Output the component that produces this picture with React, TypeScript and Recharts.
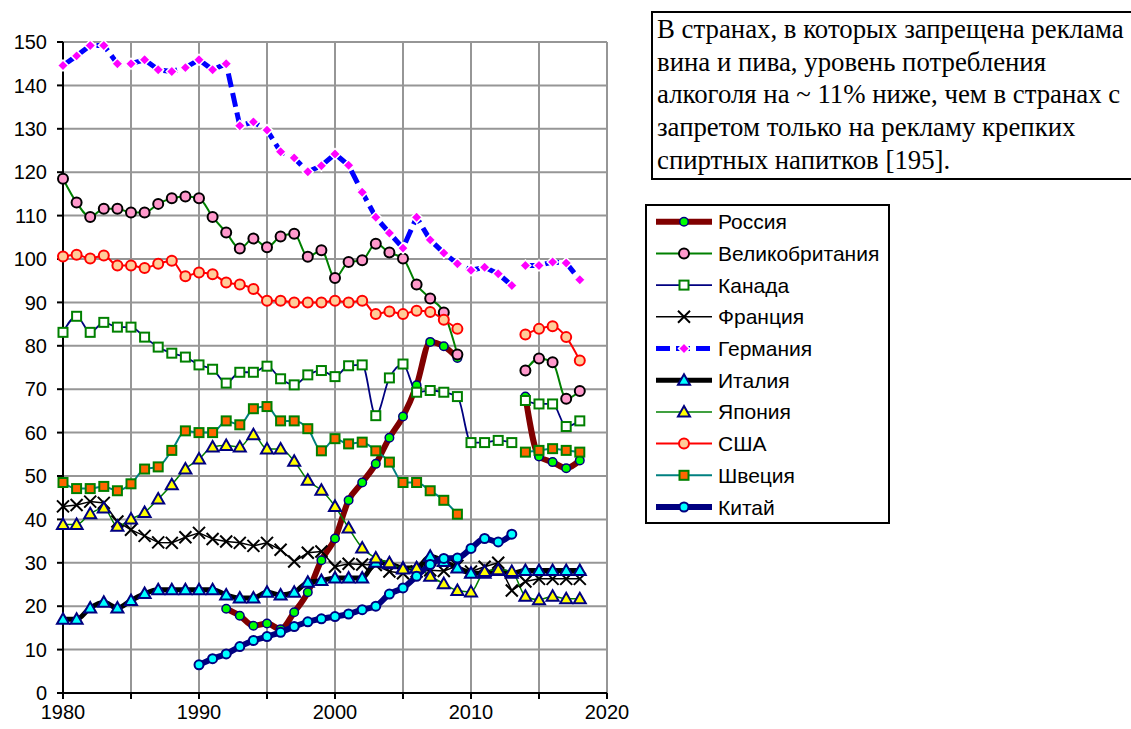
import { CartesianGrid, Line, LineChart, XAxis, YAxis } from "recharts"

const years = [
  1980, 1981, 1982, 1983, 1984, 1985, 1986, 1987, 1988, 1989,
  1990, 1991, 1992, 1993, 1994, 1995, 1996, 1997, 1998, 1999,
  2000, 2001, 2002, 2003, 2004, 2005, 2006, 2007, 2008, 2009,
  2010, 2011, 2012, 2013, 2014, 2015, 2016, 2017, 2018,
]
const xTicks = [1980, 1985, 1990, 1995, 2000, 2005, 2010, 2015, 2020]
const yTicks = [0, 10, 20, 30, 40, 50, 60, 70, 80, 90, 100, 110, 120, 130, 140, 150]

// values per year; each list starts at the year given next to it
const russia1992 = [19.4, 17.8, 15.5, 16, 14.7, 18.6, 23.2, 30.6, 35.6, 44.4, 48.5, 52.8, 58.8, 63.7, 70.9, 80.9, 79.9, 77.2]
const russia2014 = [68.3, 54.5, 53.2, 51.8, 53.6]
const uk1980 = [
  118.5, 113, 109.7, 111.6, 111.6, 110.7, 110.7, 112.7, 114, 114.4,
  114, 109.7, 106.1, 102.4, 104.7, 102.7, 105.2, 105.8, 100.5, 102,
  95.6, 99.3, 99.7, 103.5, 101.5, 100.1, 94.1, 90.9, 87.7, 78,
]
const uk2014 = [74.3, 77.1, 76.2, 67.8, 69.6]
const canada1980 = [
  83.1, 86.8, 83.1, 85.4, 84.3, 84.3, 82, 79.7, 78.3, 77.4,
  75.6, 74.6, 71.4, 73.9, 73.9, 75.3, 72.4, 71, 73.3, 74.3,
  72.9, 75.4, 75.6, 63.9, 72.6, 75.8, 69.3, 69.7, 69.3, 68.3,
  57.7, 57.7, 58.2, 57.7,
]
const canada2014 = [67.4, 66.6, 66.6, 61.4, 62.7]
const france1980 = [
  43, 43.3, 44.1, 43.8, 39.5, 37.6, 36.2, 34.7, 34.6, 35.9,
  36.9, 35.5, 34.9, 34.6, 33.9, 34.6, 33, 30.3, 32.3, 32.6,
  29.1, 29.8, 29.6, 29.5, 28, 27.6, 28, 28.3, 28.1, 29.3,
  28, 29.1, 30, 23.6, 25.7, 26.3, 26.3, 26.3, 26.3,
]
const germany1980 = [
  144.6, 146.8, 149.2, 149.2, 145, 145, 145.9, 143.6, 143.2, 144.1,
  145.9, 143.6, 145, 130.7, 131.6, 129.7, 124.7, 123.3, 120.1, 121.5,
  124.2, 121.6, 115.4, 109.6, 106, 102.5, 109.6, 104.4, 101.4, 98.9,
  97.4, 98.1, 96.6, 93.9,
]
const germany2014 = [98.5, 98.5, 99.3, 99.1, 95.2]
const italy1980 = [
  17, 17, 19.6, 20.9, 19.6, 21.3, 22.9, 23.8, 23.8, 23.8,
  23.8, 23.8, 22.6, 21.9, 21.9, 23.2, 22.6, 23.2, 25.5, 25.9,
  26.5, 26.5, 26.5, 30.1, 29.8, 28.8, 28.8, 31.5, 30.3, 28.8,
  27.6, 27.6, 28.2, 27.6, 28.2, 28.2, 28.2, 28.2, 28.2,
]
const japan1980 = [
  38.8, 38.8, 41.3, 42.6, 38.4, 40.1, 41.6, 44.7, 48, 51.6,
  53.9, 56.7, 57, 56.7, 59.5, 56.2, 56.2, 53.4, 49, 46.7,
  43, 38, 33.4, 31.1, 30, 28.6, 28.8, 26.9, 25.2, 23.6,
  23.3, 28, 28.4, 28, 22.3, 21.5, 22.3, 21.7, 21.7,
]
const usa1980 = [
  100.6, 101, 100.1, 100.8, 98.5, 98.5, 97.9, 98.9, 99.6, 96,
  96.9, 96.5, 94.6, 94.1, 93.1, 90.4, 90.4, 90, 90, 90,
  90.4, 90, 90.4, 87.3, 87.9, 87.3, 88.1, 87.8, 86, 83.9,
]
const usa2014 = [82.6, 83.9, 84.5, 82, 76.6]
const sweden1980 = [
  48.5, 47.1, 47.1, 47.6, 46.6, 48.2, 51.6, 52.1, 55.9, 60.4,
  60, 60, 62.7, 61.8, 65.5, 66, 62.7, 62.7, 60.9, 55.8,
  58.6, 57.4, 57.8, 55.8, 53.2, 48.5, 48.5, 46.6, 44.4, 41.2,
]
const sweden2014 = [55.5, 55.9, 56.3, 55.9, 55.5]
const china1990 = [
  6.5, 7.9, 9, 10.7, 12.1, 13, 14, 15.3, 16.4, 17.1,
  17.6, 18.2, 19.2, 20, 22.8, 24.2, 26.9, 29.6, 31, 31.1,
  33.3, 35.6, 34.8, 36.6,
]

const noteLines = [
  "В странах, в которых запрещена реклама",
  "вина и пива, уровень потребления",
  "алкоголя на ~ 11% ниже, чем в странах с",
  "запретом только на рекламу крепких",
  "спиртных напитков [195].",
]

type Part = [number, (number | null)[]]

function valueAt(parts: Part[], year: number) {
  for (const [start, values] of parts) {
    const i = year - start
    if (i >= 0 && i < values.length) return values[i]
  }
  return null
}

const seriesParts: Record<string, Part[]> = {
  russia: [[1992, russia1992], [2014, russia2014]],
  uk: [[1980, uk1980], [2014, uk2014]],
  canada: [[1980, canada1980]],
  canadaLate: [[2014, canada2014]],
  france: [[1980, france1980]],
  germany: [[1980, germany1980]],
  germanyLate: [[2014, germany2014]],
  italy: [[1980, italy1980]],
  japan: [[1980, japan1980]],
  usa: [[1980, usa1980], [2014, usa2014]],
  sweden: [[1980, sweden1980], [2014, sweden2014]],
  china: [[1990, china1990]],
}

const data = years.map((year) => {
  const row: Record<string, number | null> = { year }
  for (const key of Object.keys(seriesParts)) row[key] = valueAt(seriesParts[key], year)
  return row
})

type Shape = "circle" | "square" | "x" | "diamond" | "triangle"
type Style = {
  keys: string[]
  name: string
  color: string
  width: number
  dash?: string
  curve: "monotone" | "linear"
  shape: Shape
  fill: string
  edge: string
  edgeW: number
  size: number
}

const SERIES: Style[] = [
  { keys: ["russia"], name: "Россия", color: "#800000", width: 6, curve: "monotone", shape: "circle", fill: "#00ff00", edge: "#000080", edgeW: 1.5, size: 10 },
  { keys: ["uk"], name: "Великобритания", color: "#008000", width: 2, curve: "monotone", shape: "circle", fill: "#ff99cc", edge: "#000000", edgeW: 2, size: 12 },
  { keys: ["canada", "canadaLate"], name: "Канада", color: "#000080", width: 1.8, curve: "monotone", shape: "square", fill: "#ffffff", edge: "#008000", edgeW: 2, size: 11 },
  { keys: ["france"], name: "Франция", color: "#000000", width: 1.5, curve: "linear", shape: "x", fill: "none", edge: "#000000", edgeW: 2, size: 12 },
  { keys: ["germany", "germanyLate"], name: "Германия", color: "#0000ff", width: 5, dash: "14 6", curve: "linear", shape: "diamond", fill: "#ff00ff", edge: "#ffffff", edgeW: 1.5, size: 11 },
  { keys: ["italy"], name: "Италия", color: "#000000", width: 5, curve: "monotone", shape: "triangle", fill: "#00ffff", edge: "#000080", edgeW: 2, size: 12 },
  { keys: ["japan"], name: "Япония", color: "#008000", width: 1.5, curve: "monotone", shape: "triangle", fill: "#ffff00", edge: "#000080", edgeW: 2, size: 12 },
  { keys: ["usa"], name: "США", color: "#ff0000", width: 2, curve: "monotone", shape: "circle", fill: "#ffcc99", edge: "#ff0000", edgeW: 2, size: 12 },
  { keys: ["sweden"], name: "Швеция", color: "#008080", width: 2, curve: "monotone", shape: "square", fill: "#ff6600", edge: "#008000", edgeW: 2, size: 11 },
  { keys: ["china"], name: "Китай", color: "#000080", width: 6, curve: "monotone", shape: "circle", fill: "#00ffff", edge: "#000080", edgeW: 2, size: 11 },
]

function Marker({ cx, cy, s }: { cx: number; cy: number; s: Style }) {
  const h = s.size / 2
  const common = { fill: s.fill, stroke: s.edge, strokeWidth: s.edgeW }
  switch (s.shape) {
    case "circle":
      return <circle cx={cx} cy={cy} r={h - s.edgeW / 2} {...common} />
    case "square":
      return <rect x={cx - h + 1} y={cy - h + 1} width={s.size - 2} height={s.size - 2} {...common} />
    case "triangle":
      return <polygon points={`${cx},${cy - h} ${cx + h},${cy + h * 0.75} ${cx - h},${cy + h * 0.75}`} {...common} strokeLinejoin="miter" />
    case "diamond":
      return <polygon points={`${cx},${cy - h} ${cx + h},${cy} ${cx},${cy + h} ${cx - h},${cy}`} {...common} />
    case "x":
      return (
        <path
          d={`M${cx - h},${cy - h}L${cx + h},${cy + h}M${cx + h},${cy - h}L${cx - h},${cy + h}`}
          stroke={s.edge}
          strokeWidth={s.edgeW}
          fill="none"
        />
      )
  }
}

function LegendBox() {
  const rowH = 31.7
  return (
    <svg width={245} height={320} style={{ position: "absolute", left: 645, top: 204 }}>
      <rect x={1} y={1} width={243} height={318} fill="#fff" stroke="#000" strokeWidth={2} />
      {SERIES.map((s, i) => {
        const y = 17.7 + i * rowH
        return (
          <g key={s.name}>
            <line x1={11} x2={67} y1={y} y2={y} stroke={s.color} strokeWidth={s.width} strokeDasharray={s.dash} />
            <Marker cx={39} cy={y} s={s} />
            <text x={73} y={y} dominantBaseline="central" fontFamily="'Liberation Sans', Arial, sans-serif" fontSize={21} fill="#000">
              {s.name}
            </text>
          </g>
        )
      })}
    </svg>
  )
}

export default function App() {
  return (
    <div style={{ position: "absolute", left: 0, top: 0, width: 1131, height: 729, overflow: "hidden", background: "#fff" }}>
      <LineChart width={1131} height={729} data={data} margin={{ top: 42, right: 524, bottom: 6, left: 0 }}>
        <CartesianGrid stroke="#969696" strokeWidth={2} />
        <XAxis
          dataKey="year"
          type="number"
          domain={[1980, 2020]}
          ticks={xTicks}
          tickFormatter={(v: number) => (v % 10 === 0 ? String(v) : "")}
          height={30}
          tickSize={6}
          tickMargin={6}
          axisLine={{ stroke: "#000", strokeWidth: 2 }}
          tickLine={{ stroke: "#000", strokeWidth: 2 }}
          tick={{ fill: "#000", fontSize: 20, fontFamily: "'Liberation Sans', Arial, sans-serif" }}
        />
        <YAxis
          type="number"
          domain={[0, 150]}
          ticks={yTicks}
          width={63}
          tickSize={6}
          tickMargin={10}
          axisLine={{ stroke: "#000", strokeWidth: 2 }}
          tickLine={{ stroke: "#000", strokeWidth: 2 }}
          tick={{ fill: "#000", fontSize: 20, fontFamily: "'Liberation Sans', Arial, sans-serif" }}
        />
        {SERIES.flatMap((s) =>
          s.keys.map((k) => (
            <Line
              key={k}
              dataKey={k}
              name={s.name}
              type={s.curve}
              stroke={s.color}
              strokeWidth={s.width}
              strokeDasharray={s.dash}
              strokeLinejoin="round"
              connectNulls={false}
              isAnimationActive={false}
              activeDot={false}
              dot={(p: any) =>
                p.cx == null || p.cy == null || p.value == null ? (
                  <g key={`${k}-${p.index}`} />
                ) : (
                  <Marker key={`${k}-${p.index}`} cx={p.cx} cy={p.cy} s={s} />
                )
              }
            />
          ))
        )}
      </LineChart>
      <LegendBox />
      <div
        style={{
          position: "absolute",
          left: 651,
          top: 11,
          width: 500,
          height: 169,
          boxSizing: "border-box",
          border: "2px solid #000",
          background: "#fff",
          fontFamily: "'Liberation Serif', 'Times New Roman', serif",
          fontSize: 26.8,
          lineHeight: "32.7px",
          padding: "0 0 0 4px",
          whiteSpace: "nowrap",
          overflow: "hidden",
        }}
      >
        <div style={{ marginTop: 0 }}>
          {noteLines.map((t) => (
            <div key={t}>{t}</div>
          ))}
        </div>
      </div>
    </div>
  )
}
